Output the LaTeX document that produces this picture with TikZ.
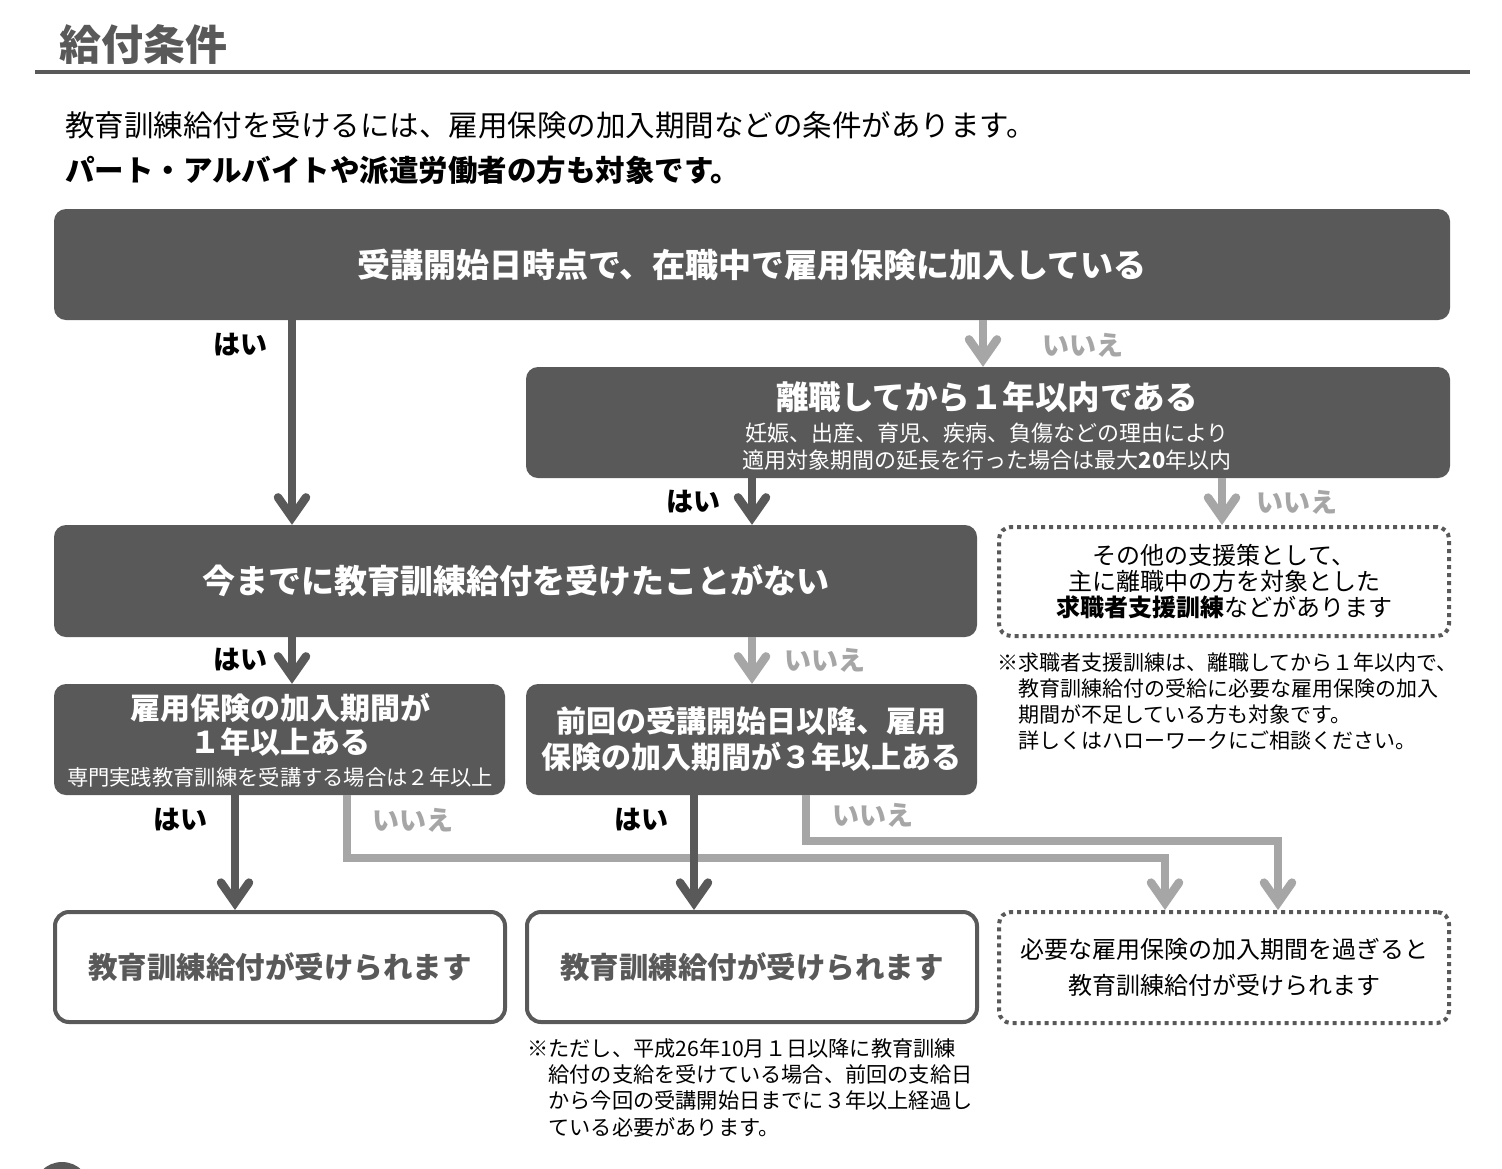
\documentclass[tikz,border=0pt]{standalone}
\usepackage{fontspec}
\setmainfont{Noto Sans CJK JP}
\usetikzlibrary{arrows.meta,calc}
\definecolor{dk}{HTML}{595959}
\definecolor{gr}{HTML}{A6A6A6}
\newcommand\fsz[2]{\fontsize{#1}{#2}\selectfont}
\begin{document}
\begin{tikzpicture}[x=1pt,y=-1pt,
 darkbox/.style={fill=dk, rounded corners=12pt, inner sep=0pt, text=white, font=\bfseries\fsz{33}{38}, align=center},
 whitebox/.style={draw=dk, line width=4pt, rounded corners=14pt, fill=white, inner sep=0pt, text=dk, font=\bfseries\fsz{29.5}{34}},
 dotbox/.style={draw=dk, line width=4pt, dash pattern=on 4pt off 4pt, rounded corners=12pt, inner sep=0pt, align=center, text=black, font=\fsz{24}{26}},
 headtip/.style={-{Straight Barb[length=20pt,width=28pt,line cap=round,line join=miter]}},
 darr/.style={draw=dk, line width=8.5pt, headtip},
 garr/.style={draw=gr, line width=8.5pt, headtip},
 yeslbl/.style={font=\bfseries\fsz{27}{30}, text=black, inner sep=0pt},
 nolbl/.style={font=\bfseries\fsz{27}{30}, text=gr, inner sep=0pt},
 plain/.style={inner sep=0pt, text=black},
]
\useasboundingbox (0,0) rectangle (1502,1168);
\fill[white] (0,0) rectangle (1502,1168);

% heading
\node[plain, text=dk, font=\bfseries\fsz{42}{46}] (title) at (143,45) {給付条件};
\coordinate (ruleL) at (35,72);
\coordinate (ruleR) at (1470,72);
\draw[dk, line width=4pt] (ruleL) -- (ruleR);
\node[plain, anchor=west, font=\fsz{29.5}{32}] (intro1) at (65,125) {教育訓練給付を受けるには、雇用保険の加入期間などの条件があります。};
\node[plain, anchor=west, font=\bfseries\fsz{29.5}{32}] (intro2) at (65,170) {パート・アルバイトや派遣労働者の方も対象です。};

% boxes
\node[darkbox, minimum width=1396pt, minimum height=111pt] (A) at (752,264.5) {受講開始日時点で、在職中で雇用保険に加入している};
\node[darkbox, minimum width=924pt, minimum height=111pt] (B) at (988,422.5) {};
\node[plain, text=white, font=\bfseries\fsz{32.5}{36}] (Bt) at (987,397) {離職してから１年以内である};
\node[plain, text=white, align=center, font=\fsz{22}{27}] (Bs) at (987,446.5) {妊娠、出産、育児、疾病、負傷などの理由により\\適用対象期間の延長を行った場合は最大\textbf{20}年以内};
\node[darkbox, minimum width=923pt, minimum height=112pt] (C) at (515.5,581) {今までに教育訓練給付を受けたことがない};
\node[dotbox, minimum width=450pt, minimum height=109pt] (D) at (1224,581.5) {その他の支援策として、\\主に離職中の方を対象とした\\\textbf{求職者支援訓練}などがあります};
\node[plain, anchor=west, align=left, font=\fsz{21}{26.3}] (noteD) at (997,701.5) {※求職者支援訓練は、離職してから１年以内で、\\\hspace*{1em}教育訓練給付の受給に必要な雇用保険の加入\\\hspace*{1em}期間が不足している方も対象です。\\\hspace*{1em}詳しくはハローワークにご相談ください。};
\node[darkbox, minimum width=451pt, minimum height=111pt] (E) at (279.5,739.5) {};
\node[plain, text=white, align=center, font=\bfseries\fsz{30}{34}] (Et) at (280,725) {雇用保険の加入期間が\\１年以上ある};
\node[plain, text=white, font=\fsz{21.3}{24}] (Es) at (280,777) {専門実践教育訓練を受講する場合は２年以上};
\node[darkbox, minimum width=451pt, minimum height=111pt, font=\bfseries\fsz{30}{36}] (F) at (751.5,739.5) {前回の受講開始日以降、雇用\\保険の加入期間が３年以上ある};
\node[whitebox, minimum width=450pt, minimum height=110pt] (G) at (280,967) {教育訓練給付が受けられます};
\node[whitebox, minimum width=450pt, minimum height=110pt] (H) at (752,967) {教育訓練給付が受けられます};
\node[dotbox, minimum width=450pt, minimum height=111pt, font=\fsz{24}{36}] (I) at (1224,967.5) {必要な雇用保険の加入期間を過ぎると\\教育訓練給付が受けられます};
\node[plain, anchor=west, align=left, font=\fsz{21.2}{26.3}] (noteH) at (527,1087.5) {※ただし、平成26年10月１日以降に教育訓練\\\hspace*{1em}給付の支給を受けている場合、前回の支給日\\\hspace*{1em}から今回の受講開始日までに３年以上経過し\\\hspace*{1em}ている必要があります。};

% column coordinates
\coordinate (c1) at (292,0);
\coordinate (c2) at (983,0);
\coordinate (c3) at (752,0);
\coordinate (c4) at (1222,0);
\coordinate (c5) at (235,0);
\coordinate (c6) at (347,0);
\coordinate (c7) at (694,0);
\coordinate (c8) at (806,0);
\coordinate (c9) at (1165,0);
\coordinate (c10) at (1278,0);
\coordinate (r1) at (0,858);
\coordinate (r2) at (0,841);

% grey connectors (under)
\draw[garr] (A.south -| c2) -- (B.north -| c2);
\draw[garr] (B.south -| c4) -- (D.north -| c4);
\draw[garr] (C.south -| c3) -- (F.north -| c3);
\draw[garr] (E.south -| c6) -- (c6 |- r1) -- (c9 |- r1) -- (I.north -| c9);
\draw[garr] (F.south -| c8) -- (c8 |- r2) -- (c10 |- r2) -- (I.north -| c10);

% dark connectors
\draw[darr] (A.south -| c1) -- (C.north -| c1);
\draw[darr] (B.south -| c3) -- (C.north -| c3);
\draw[darr] (C.south -| c1) -- (E.north -| c1);
\draw[darr] (E.south -| c5) -- (G.north -| c5);
\draw[darr] (F.south -| c7) -- (H.north -| c7);

% labels
\node[yeslbl] (y1) at (240,345) {はい};
\node[nolbl] (n1) at (1083,345) {いいえ};
\node[yeslbl] (y2) at (693,502) {はい};
\node[nolbl] (n2) at (1297,502) {いいえ};
\node[yeslbl] (y3) at (240,660) {はい};
\node[nolbl] (n3) at (825,660) {いいえ};
\node[yeslbl] (y4) at (180,820) {はい};
\node[nolbl] (n4) at (413,820) {いいえ};
\node[yeslbl] (y5) at (641,820) {はい};
\node[nolbl] (n5) at (873,815) {いいえ};

% partial circle at bottom edge
\begin{scope}
\clip (0,0) rectangle (1502,1168);
\fill[dk] (62,1190.5) circle[radius=28.5];
\end{scope}
\end{tikzpicture}
\end{document}
